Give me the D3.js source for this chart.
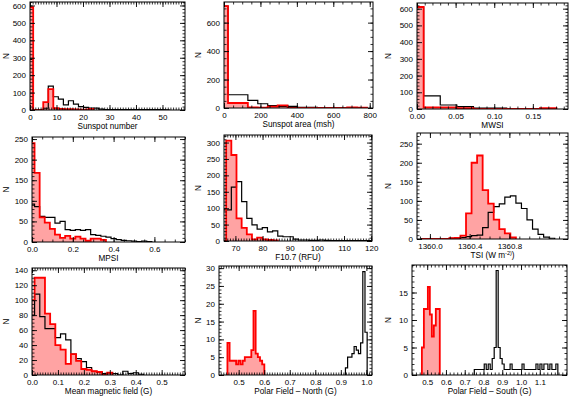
<!DOCTYPE html>
<html>
<head>
<meta charset="utf-8">
<script src="https://cdn.jsdelivr.net/npm/d3@7"></script>
<style>
  body { margin: 0; background: #fff; }
  svg { display: block; }
  text { font-family: "Liberation Sans", Arial, sans-serif; fill: #000; }
</style>
</head>
<body>
<div id="chart"></div>
<script>
// ---- histogram data: first bin edge, bin width, counts (black = all, red = subset)
const ssnBins = [-0.7, 1.9];
const ssnBlack = [290, 0, 0, 10, 137, 76, 63, 29, 53, 34, 19, 15, 11, 11, 5, 3, 3, 2, 2, 2, 2, 2, 2, 2, 2, 2, 2, 1];
const ssnRed = [590, 0, 0, 45, 120, 10, 6, 5, 5, 4, 2, 2, 6];

const areaBins = [-32.5, 54.5];
const areaBlack = [716, 93, 93, 53, 30, 16, 12, 12, 5, 5, 3, 2, 2, 2, 2];
const areaRed = [716, 35, 35, 5, 3, 10, 18, 0, 0, 0, 0, 0, 0, 5, 3];

const mwsiBins = [-0.0129, 0.0215];
const mwsiBlack = [610, 78, 24, 14, 6, 6, 1];
const mwsiRed = [610, 10, 10, 5, 0, 0, 0, 0, 5];

const mpsiBins = [-0.0125, 0.025];
const mpsiBlack = [92, 86, 62, 60, 60, 46, 50, 30, 28, 30, 28, 30, 18, 16, 14, 12, 8, 6, 4, 3, 2, 1, 2, 1];
const mpsiRed = [240, 168, 60, 47, 32, 18, 10, 15, 8, 13, 8, 3, 8, 8, 5];

const f107Bins = [64.7, 1.9];
const f107Black = [95, 95, 164, 181, 120, 69, 49, 36, 41, 28, 31, 15, 13, 13, 6, 3, 3, 2, 2, 3, 2, 1, 1, 1, 1, 1, 1, 1, 1];
const f107Red = [0, 306, 262, 69, 40, 20, 5, 10, 5, 3, 2];

const tsiBins = [1359.917, 0.0558];
const tsiBlack = [1, 1, 1, 0, 0, 2, 3, 4, 6, 9, 10, 30, 70, 85, 92, 110, 113, 94, 80, 50, 26, 12, 5, 2];
const tsiRed = [0, 0, 0, 0, 0, 2, 3, 9, 67, 200, 219, 128, 93, 51, 26, 15, 4];

const mmfBins = [-0.01, 0.02];
const mmfBlack = [80, 108, 78, 62, 62, 50, 55, 47, 28, 22, 18, 10, 5, 4, 2, 3, 2, 0, 5, 2, 3, 1];
const mmfRed = [100, 130, 130, 82, 68, 40, 34, 15, 28, 19, 8, 7, 5, 4, 0, 3];

const northBlackBins = [0.918, 0.0085];
const northBlack = [2, 5, 5, 6, 8, 7, 6, 9, 29, 12];
const northRedBins = [0.456, 0.0085];
const northRed = [9, 4, 4, 4, 3, 4, 3, 4, 5, 5, 5, 7, 18, 6, 5, 4, 3];

const southBlackBins = [0.751, 0.0106];
const southBlack = [1, 1, 1, 1, 1, 2, 1, 2, 1, 3, 5, 19, 5, 3, 2, 1, 1, 1, 2, 1, 1, 1, 1, 1, 2, 1, 1, 1, 1, 1, 1, 2, 1, 2, 1, 2, 2, 1, 2, 1, 1, 2];
const southRedBins = [0.4717, 0.0106];
const southRed = [5, 12, 12, 16, 11, 7, 9, 12, 12];

// ---- axis titles
const xTitles = ['Sunspot number', 'Sunspot area (msh)', 'MWSI', 'MPSI', 'F10.7 (RFU)',
  'TSI (W m|-2)', 'Mean magnetic field (G)', 'Polar Field \u2013 North (G)', 'Polar Field \u2013 South (G)'];

const W = 569, H = 397;
const svg = d3.select('#chart').append('svg')
  .attr('width', W).attr('height', H).attr('viewBox', `0 0 ${W} ${H}`);

// panel layout + axis setup
const panels = [
  { box: [30, 185, 2, 110], xd: [0, 58.5], yd: [0, 620], xt: [0, 50, 10], xm: 1, yt: [0, 600, 100], ym: 20, xf: 'd',
    black: [ssnBins, ssnBlack], red: [ssnBins, ssnRed] },
  { box: [224, 373, 2, 108], xd: [0, 818], yd: [0, 745], xt: [0, 800, 200], xm: 50, yt: [0, 600, 200], ym: 50, xf: 'd',
    black: [areaBins, areaBlack], red: [areaBins, areaRed] },
  { box: [417, 568, 3, 109], xd: [0, 0.1955], yd: [0, 634], xt: [0, 0.15, 0.05], xm: 0.01, yt: [0, 600, 100], ym: 20, xf: '.2f',
    black: [mwsiBins, mwsiBlack], red: [mwsiBins, mwsiRed] },
  { box: [32, 185, 137, 242], xd: [0, 0.75], yd: [0, 255], xt: [0, 0.6, 0.2], xm: 0.05, yt: [0, 250, 50], ym: 10, xf: '.1f',
    black: [mpsiBins, mpsiBlack], red: [mpsiBins, mpsiRed] },
  { box: [224, 372, 135, 241], xd: [65.8, 120.3], yd: [0, 323], xt: [70, 120, 10], xm: 1, yt: [0, 300, 50], ym: 10, xf: 'd',
    black: [f107Bins, f107Black], red: [f107Bins, f107Red] },
  { box: [417, 568, 133, 239], xd: [1359.87, 1361.39], yd: [0, 278], xt: [1360, 1360.8, 0.4], xm: 0.1, yt: [0, 250, 50], ym: 10, xf: '.1f',
    black: [tsiBins, tsiBlack], red: [tsiBins, tsiRed] },
  { box: [32, 185, 268, 375], xd: [0, 0.59], yd: [0, 143], xt: [0, 0.5, 0.1], xm: 0.01, yt: [0, 140, 20], ym: 5, xf: '.1f',
    black: [mmfBins, mmfBlack], red: [mmfBins, mmfRed] },
  { box: [219, 372, 266, 375], xd: [0.423, 1.022], yd: [0, 30.6], xt: [0.5, 1.0, 0.1], xm: 0.01, yt: [0, 30, 5], ym: 1, xf: '.1f',
    black: [northBlackBins, northBlack], red: [northRedBins, northRed] },
  { box: [412, 567, 265, 375], xd: [0.419, 1.245], yd: [0, 20], xt: [0.5, 1.1, 0.1], xm: 0.02, yt: [0, 15, 5], ym: 1, xf: '.1f',
    black: [southBlackBins, southBlack], red: [southRedBins, southRed] }
];

function ticksFrom([a, b, s]) {
  const n = Math.round((b - a) / s);
  return d3.range(n + 1).map(i => +(a + i * s).toFixed(6));
}

function stepPoints(bins, counts) {
  const [start, w] = bins;
  const pts = [[start, 0]];
  counts.forEach((c, i) => {
    pts.push([start + i * w, c]);
    pts.push([start + (i + 1) * w, c]);
  });
  pts.push([start + counts.length * w, 0]);
  return pts;
}

panels.forEach((p, i) => {
  const [x0, x1, y0, y1] = p.box;
  const x = d3.scaleLinear().domain(p.xd).range([x0, x1]);
  const y = d3.scaleLinear().domain(p.yd).range([y1, y0]);
  const g = svg.append('g');

  g.append('clipPath').attr('id', 'clip' + i)
    .append('rect').attr('x', x0).attr('y', y0).attr('width', x1 - x0).attr('height', y1 - y0);

  const line = d3.line().x(d => x(d[0])).y(d => y(d[1]));
  const plot = g.append('g').attr('clip-path', `url(#clip${i})`);
  const redPts = stepPoints(p.red[0], p.red[1]);

  plot.append('path').attr('d', line(redPts) + 'Z')
    .attr('fill', '#ffa3a3').attr('stroke', 'none');
  plot.append('path').attr('d', line(stepPoints(p.black[0], p.black[1])))
    .attr('fill', 'none').attr('stroke', '#000').attr('stroke-width', 1.2);
  plot.append('path').attr('d', line(redPts))
    .attr('fill', 'none').attr('stroke', '#f00').attr('stroke-width', 1.8);

  // ticks on all four sides, pointing inwards
  const major = ticksFrom(p.xt);
  const xdom = x.domain();
  const minorX = d3.range(Math.ceil(xdom[0] / p.xm - 1e-6), Math.floor(xdom[1] / p.xm + 1e-6) + 1)
    .map(k => +(k * p.xm).toFixed(6));
  const yMajor = ticksFrom(p.yt);
  const ydom = y.domain();
  const minorY = d3.range(0, Math.floor(ydom[1] / p.ym + 1e-6) + 1).map(k => +(k * p.ym).toFixed(6));

  const fmt = p.xf === 'd' ? d3.format('d') : d3.format(p.xf);

  const axes = [
    [d3.axisBottom(x), `translate(0,${y1})`, major, minorX, true],
    [d3.axisTop(x), `translate(0,${y0})`, major, minorX, false],
    [d3.axisLeft(y), `translate(${x0},0)`, yMajor, minorY, true],
    [d3.axisRight(y), `translate(${x1},0)`, yMajor, minorY, false]
  ];
  axes.forEach(([ax, tr, maj, min, labels], k) => {
    const isX = k < 2;
    g.append('g').attr('transform', tr)
      .call(ax.tickValues(min).tickSize(-2.5).tickSizeOuter(0).tickFormat(''))
      .call(s => s.select('.domain').remove())
      .selectAll('line').attr('stroke-width', 0.8);
    const a = g.append('g').attr('transform', tr)
      .call(ax.tickValues(maj).tickSize(-5).tickSizeOuter(0)
        .tickPadding(4)
        .tickFormat(labels ? (isX ? fmt : d3.format('d')) : ''))
      .call(s => s.select('.domain').remove());
    a.selectAll('line').attr('stroke-width', 0.9);
    a.selectAll('text').attr('font-size', 8).attr('font-family', '"Liberation Sans", Arial, sans-serif');
  });

  g.append('rect').attr('x', x0).attr('y', y0).attr('width', x1 - x0).attr('height', y1 - y0)
    .attr('fill', 'none').attr('stroke', '#000').attr('stroke-width', 1);

  // titles
  const title = g.append('text')
    .attr('x', (x0 + x1) / 2).attr('y', y1 + 19)
    .attr('text-anchor', 'middle').attr('font-size', 8.2);
  const parts = xTitles[i].split('|');
  title.append('tspan').text(parts[0]);
  if (parts[1]) {
    title.append('tspan').attr('dy', -3.5).attr('font-size', 5.5).text(parts[1]);
    title.append('tspan').attr('dy', 3.5).text(')');
  }

  const nx = [6, 198, 388][i % 3];
  g.append('text')
    .attr('transform', `translate(${nx},${(y0 + y1) / 2}) rotate(-90)`)
    .attr('text-anchor', 'middle').attr('dy', '0.35em').attr('font-size', 8.2).text('N');
});
</script>
</body>
</html>
